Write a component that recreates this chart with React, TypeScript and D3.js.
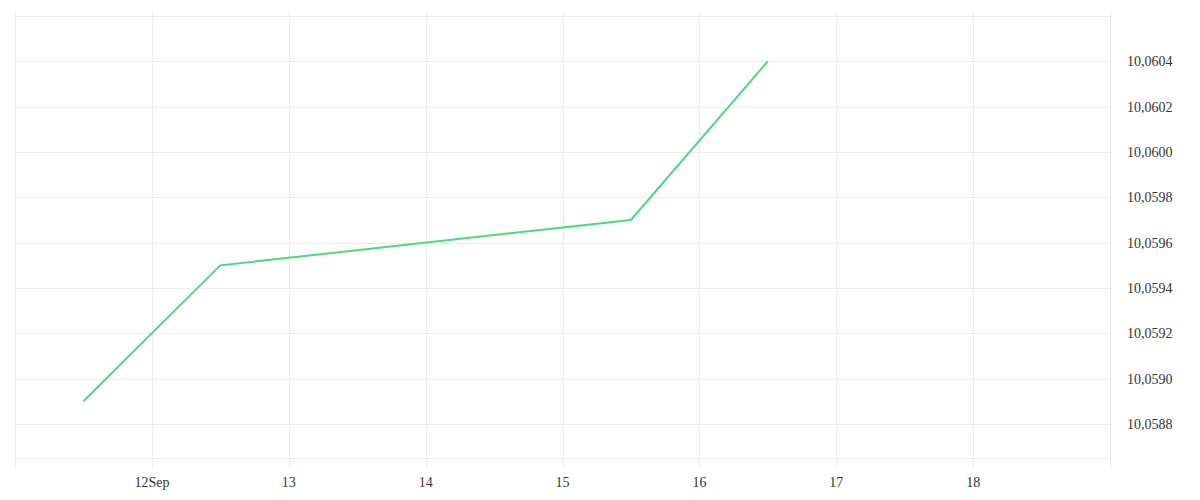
import React from "react";
import * as d3 from "d3";

const days = [11.5, 12.5, 15.5, 16.5];
const values = [10.0589, 10.0595, 10.0597, 10.0604];
const yTicks = [10.0588, 10.059, 10.0592, 10.0594, 10.0596, 10.0598, 10.06, 10.0602, 10.0604, 10.0606];
const yLabelTicks = [10.0588, 10.059, 10.0592, 10.0594, 10.0596, 10.0598, 10.06, 10.0602, 10.0604];
const xTicks = [11, 12, 13, 14, 15, 16, 17, 18, 19];
const xLabels: [number, string][] = [[12, "12Sep"], [13, "13"], [14, "14"], [15, "15"], [16, "16"], [17, "17"], [18, "18"]];

const W = 1200, H = 500;
const left = 15, right = 1110, top = 16, bottom = 458;

export default function App() {
  const x = d3.scaleLinear().domain([11, 19]).range([left, right]);
  const y = d3.scaleLinear().domain([10.05865, 10.0606]).range([bottom, top]);
  const line = d3.line<number>().x((_, i) => x(days[i])).y((d) => y(d));
  const grid = "#ececec";
  return (
    <svg width={W} height={H} style={{ position: "absolute", left: 0, top: 0, background: "#fff" }}>
      {yTicks.map((t) => (
        <line key={"h" + t} x1={left} x2={right} y1={Math.round(y(t)) + 0.5} y2={Math.round(y(t)) + 0.5} stroke={grid} strokeWidth={1} />
      ))}
      <line x1={left} x2={right} y1={bottom + 0.5} y2={bottom + 0.5} stroke={grid} strokeWidth={1} />
      {xTicks.map((t) => (
        <line key={"v" + t} x1={Math.round(x(t)) + 0.5} x2={Math.round(x(t)) + 0.5} y1={12} y2={468} stroke={grid} strokeWidth={1} />
      ))}
      <path d={line(values) || ""} fill="none" stroke="#4cd97b" strokeWidth={2} />
      {yLabelTicks.map((t) => (
        <text key={"yl" + t} x={1127} y={y(t) + 5} fontSize={14} fill="#333" fontFamily="serif">
          {d3.format(".4f")(t).replace(".", ",")}
        </text>
      ))}
      {xLabels.map(([t, s]) => (
        <text key={"xl" + t} x={x(t)} y={487} fontSize={14} fill="#333" textAnchor="middle" fontFamily="serif">
          {s}
        </text>
      ))}
    </svg>
  );
}
